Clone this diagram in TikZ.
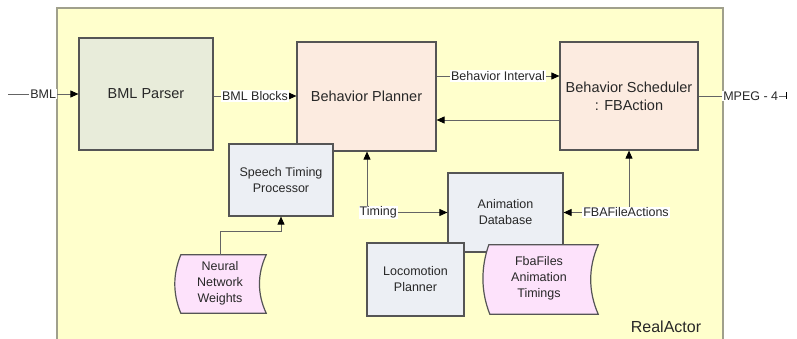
\documentclass[tikz,border=0pt]{standalone}
\usepackage{fontspec}
\setmainfont{Liberation Sans}
\usetikzlibrary{arrows.meta,calc}
\definecolor{yel}{RGB}{255,255,204}
\definecolor{outerbd}{RGB}{160,160,140}
\definecolor{bd}{RGB}{85,85,85}
\definecolor{greenf}{RGB}{232,236,218}
\definecolor{peach}{RGB}{252,235,224}
\definecolor{bluef}{RGB}{236,239,244}
\definecolor{pinkf}{RGB}{253,226,251}
\definecolor{txt}{RGB}{40,40,40}
\definecolor{connc}{RGB}{100,100,100}
\begin{document}
\begin{tikzpicture}[x=1pt,y=-1pt,
  >={Triangle[length=8pt,width=7pt,color=black]},
  box/.style={draw=bd, line width=1.2pt, align=center, text=txt, inner sep=0pt},
  bigtxt/.style={font=\fontsize{14.5}{18}\selectfont},
  smtxt/.style={font=\fontsize{12.5}{16}\selectfont},
  conn/.style={draw=connc, line width=0.9pt},
  lbl/.style={fill=white, inner sep=1pt, text=txt, font=\fontsize{12.5}{15}\selectfont},
  tapebox/.style={draw=none, inner sep=0pt},
  tapeline/.style={fill=pinkf, draw=bd, line width=1.2pt},
]
\useasboundingbox (0,0) rectangle (797,339);
\fill[yel] (57,8) rectangle (723,339);
\draw[outerbd, line width=1.5pt] (57,339) -- (57,8) -- (723,8) -- (723,339);
\node[text=txt, font=\fontsize{16}{18}\selectfont] (ra) at (666,327) {RealActor};

% main boxes
\node[box,bigtxt,fill=greenf,minimum width=134pt,minimum height=112pt] (parser) at (146,94) {BML Parser};
\node[box,bigtxt,fill=peach,minimum width=139pt,minimum height=109pt] (planner) at (366.5,96.5) {Behavior Planner};
\node[box,bigtxt,fill=peach,minimum width=138pt,minimum height=108pt] (sched) at (629,96) {Behavior Scheduler\\: FBAction};
\node[box,smtxt,fill=bluef,minimum width=104pt,minimum height=72pt] (speech) at (281,180) {Speech Timing\\Processor};
\node[box,smtxt,fill=bluef,minimum width=115pt,minimum height=79pt] (animdb) at (505.5,212.5) {Animation\\Database};
\node[box,smtxt,fill=bluef,minimum width=97pt,minimum height=73pt] (loco) at (415.5,279.5) {Locomotion\\Planner};

% tape shapes
\node[tapebox,minimum width=91pt,minimum height=58pt] (neural) at (220.5,284) {};
\draw[tapeline] ($(neural.north west)+(6,0)$) -- (neural.north east)
  .. controls ($(neural.north east)!0.33!(neural.south east)+(-9,0)$) and ($(neural.north east)!0.67!(neural.south east)+(-9,0)$) .. (neural.south east)
  -- ($(neural.south west)+(6,0)$)
  .. controls ($(neural.north west)!0.67!(neural.south west)+(-2,0)$) and ($(neural.north west)!0.33!(neural.south west)+(-2,0)$) .. cycle;
\node[smtxt,align=center,text=txt] (neuraltxt) at (220,283) {Neural\\Network\\Weights};

\node[tapebox,minimum width=115pt,minimum height=69pt] (fba) at (540.5,279.5) {};
\draw[tapeline] ($(fba.north west)+(6,0)$) -- (fba.north east)
  .. controls ($(fba.north east)!0.33!(fba.south east)+(-10,0)$) and ($(fba.north east)!0.67!(fba.south east)+(-10,0)$) .. (fba.south east)
  -- ($(fba.south west)+(7,0)$)
  .. controls ($(fba.north west)!0.67!(fba.south west)+(-2,0)$) and ($(fba.north west)!0.33!(fba.south west)+(-2,0)$) .. cycle;
\node[smtxt,align=center,text=txt] (fbatxt) at (539,278) {FbaFiles\\Animation\\Timings};

% connectors
\coordinate (bmlin) at (8,94);
\coordinate (mpegout) at (787,96);
\draw[conn,->] (bmlin) -- (parser.west) node[midway,lbl]{BML};
\draw[conn,->] (parser.east |- 0,96) -- (planner.west |- 0,96) node[midway,lbl]{BML Blocks};
\draw[conn,->] (planner.east |- 0,76) -- (sched.west |- 0,76) node[midway,lbl]{Behavior Interval};
\draw[conn,->] (sched.west |- 0,120) -- (planner.east |- 0,120);
\draw[conn,-{Bar[width=7pt,line width=1.4pt,color=black]}] (sched.east |- 0,96) -- (mpegout) node[pos=0.59,lbl]{MPEG - 4};
\draw[conn,<->] (planner.south -| 367,0) |- (animdb.west) node[pos=0.57,lbl]{Timing};
\draw[conn,<->] (sched.south) |- (animdb.east) node[pos=0.5,lbl,xshift=-3pt]{FBAFileActions};
\draw[conn,->] (neural.north) -- ++(0,-23) -| (speech.south);
\end{tikzpicture}
\end{document}
